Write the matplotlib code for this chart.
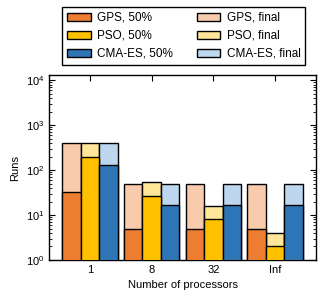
import numpy as np
import matplotlib
matplotlib.use("Agg")
import matplotlib.pyplot as plt
from matplotlib.patches import Patch

plt.rcParams['font.family'] = ['Liberation Sans', 'DejaVu Sans']
plt.rcParams['mathtext.fontset'] = 'cm'
plt.rcParams['font.size'] = 8

# Data
procs = ['1', '8', '32', 'Inf']
gps_half = [33, 5, 5, 5]
gps_final = [400, 50, 50, 50]
pso_half = [200, 26, 8, 2]
pso_final = [400, 53, 16, 4]
cma_half = [128, 17, 17, 17]
cma_final = [400, 50, 50, 50]

colors_half = ['#ED7D31', '#FFC000', '#2E75B6']
colors_final = ['#F8CBAD', '#FFE699', '#BDD7EE']
names = ['GPS', 'PSO', 'CMA-ES']

fig = plt.figure(figsize=(3.32, 2.99), dpi=100)
ax = fig.add_axes([0.1476, 0.1304, 0.8042, 0.6186])

x = np.arange(len(procs))
w = 0.3
halves = [gps_half, pso_half, cma_half]
finals = [gps_final, pso_final, cma_final]
for i in range(3):
    pos = x + (i - 1) * w
    ax.bar(pos, finals[i], w, bottom=1e-9, color=colors_final[i],
           edgecolor='black', linewidth=1, zorder=2)
    ax.bar(pos, halves[i], w, bottom=1e-9, color=colors_half[i],
           edgecolor='black', linewidth=1, zorder=3)

ax.set_yscale('log')
ax.set_ylim(1, 1.3e4)
ax.set_xlim(-0.665, 3.665)
ax.set_xticks(x)
ax.set_xticklabels(procs)
ax.tick_params(which='both', direction='in', top=True, right=True)
ax.tick_params(which='major', length=4)
ax.tick_params(which='minor', length=2)
ax.tick_params(axis='x', which='minor', top=False, bottom=False)
ax.tick_params(axis='both', labelsize=8)
for s in ax.spines.values():
    s.set_linewidth(1)
ax.set_xlabel('Number of processors')
ax.set_ylabel('Runs')

handles = [Patch(facecolor=c, edgecolor='black', label=f'{n}, 50%')
           for c, n in zip(colors_half, names)]
handles += [Patch(facecolor=c, edgecolor='black', label=f'{n}, final')
            for c, n in zip(colors_final, names)]
leg = ax.legend(handles=handles, ncol=2, loc='lower center',
                bbox_to_anchor=(0.505, 1.025), fancybox=False, framealpha=1,
                edgecolor='black', handlelength=2.0, handleheight=0.65,
                columnspacing=2.0, borderpad=0.4, labelspacing=0.5,
                handletextpad=0.55, fontsize=8.5)
leg.get_frame().set_linewidth(1)

fig.savefig('out.png', dpi=100)
